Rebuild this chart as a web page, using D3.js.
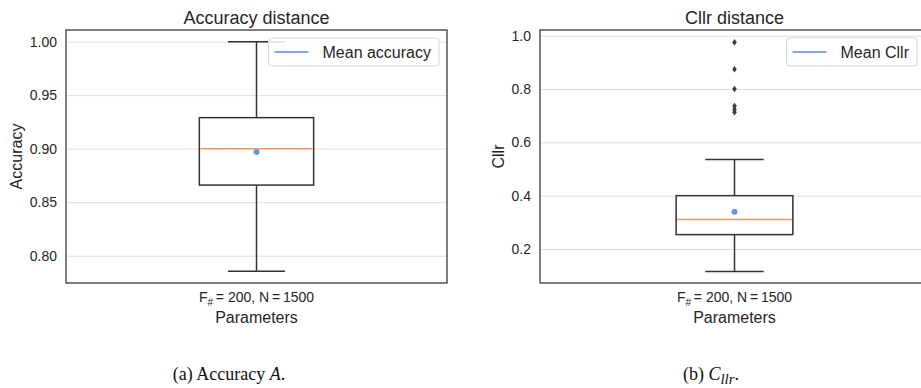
<!DOCTYPE html>
<html>
<head>
<meta charset="utf-8">
<script src="https://cdn.jsdelivr.net/npm/d3@7"></script>
<style>
  html, body { margin: 0; padding: 0; background: #fff; }
  svg { display: block; font-family: "Liberation Sans", Arial, sans-serif; }
  .grid line { stroke: #dedede; stroke-width: 1; }
  .grid path { display: none; }
  .axis path { display: none; }
  .axis text { fill: #262626; font-size: 14px; }
</style>
</head>
<body>
<div id="chart"></div>
<script>
// one category per panel
const categories = ['F#=200, N=1500'];

// box stats: [whisker low, q1, median, q3, whisker high]
const accuracyBox = [0.7855, 0.866, 0.900, 0.929, 1.000];
const accuracyMean = [0.897];
const accuracyFliers = [];
const accuracyTicks = [0.80, 0.85, 0.90, 0.95, 1.00];

const cllrBox = [0.116, 0.254, 0.311, 0.400, 0.536];
const cllrMean = [0.340];
const cllrFliers = [0.975, 0.874, 0.800, 0.736, 0.723, 0.713];
const cllrTicks = [0.2, 0.4, 0.6, 0.8, 1.0];

const W = 921, H = 388;
const TEXT = '#262626', EDGE = '#333333';
const MEAN_COLOR = '#6f95e2', LEGEND_LINE = '#86a6e6', MEDIAN_COLOR = '#f5995e';

const svg = d3.select('#chart').append('svg').attr('width', W).attr('height', H);

function drawPanel(opts) {
  const { left, right, top, bottom, domain, ticks, fmt, box, mean, fliers,
          title, ylabel, ylabelX, legendLabel, legendRight } = opts;
  const w = right - left, h = bottom - top;
  const g = svg.append('g').attr('transform', `translate(${left},${top})`);

  const x = d3.scaleBand().domain(categories).range([0, w]).padding(0);
  const y = d3.scaleLinear().domain(domain).range([h, 0]);

  g.append('g').attr('class', 'grid')
    .call(d3.axisLeft(y).tickValues(ticks).tickSize(-w).tickFormat(''));

  g.append('g').attr('class', 'axis')
    .call(d3.axisLeft(y).tickValues(ticks).tickSize(0).tickPadding(9).tickFormat(d3.format(fmt)));

  // box
  const cx = x(categories[0]) + x.bandwidth() / 2;
  const bw = x.bandwidth() * 0.3;
  const [lo, q1, med, q3, hi] = box;

  g.append('line').attr('x1', cx).attr('x2', cx).attr('y1', y(q3)).attr('y2', y(hi))
    .attr('stroke', EDGE).attr('stroke-width', 1.5);
  g.append('line').attr('x1', cx).attr('x2', cx).attr('y1', y(q1)).attr('y2', y(lo))
    .attr('stroke', EDGE).attr('stroke-width', 1.5);
  [lo, hi].forEach(v => {
    g.append('line').attr('x1', cx - bw / 4).attr('x2', cx + bw / 4).attr('y1', y(v)).attr('y2', y(v))
      .attr('stroke', EDGE).attr('stroke-width', 1.5);
  });
  g.append('rect').attr('x', cx - bw / 2).attr('width', bw)
    .attr('y', y(q3)).attr('height', y(q1) - y(q3))
    .attr('fill', '#fff').attr('stroke', EDGE).attr('stroke-width', 1.5);
  g.append('line').attr('x1', cx - bw / 2 + 1).attr('x2', cx + bw / 2 - 1).attr('y1', y(med)).attr('y2', y(med))
    .attr('stroke', MEDIAN_COLOR).attr('stroke-width', 1.5);

  g.selectAll('.mean').data(mean).enter().append('circle')
    .attr('cx', cx).attr('cy', d => y(d)).attr('r', 3).attr('fill', MEAN_COLOR);

  g.selectAll('.flier').data(fliers).enter().append('path')
    .attr('d', 'M0,-3.3L2.3,0L0,3.3L-2.3,0Z')
    .attr('transform', d => `translate(${cx},${y(d)})`)
    .attr('fill', '#3d3d3d');

  // frame
  g.append('rect').attr('width', w).attr('height', h)
    .attr('fill', 'none').attr('stroke', EDGE).attr('stroke-width', 1.25);

  // titles and labels
  g.append('text').attr('x', w / 2).attr('y', -6).attr('text-anchor', 'middle')
    .attr('font-size', 18).attr('fill', TEXT).text(title);

  const tick = g.append('text').attr('x', cx).attr('y', h + 19).attr('text-anchor', 'middle')
    .attr('font-size', 14).attr('fill', TEXT);
  tick.append('tspan').text('F');
  tick.append('tspan').attr('font-size', 10).attr('dy', 4).text('#');
  tick.append('tspan').attr('dy', -4).text('\u2009= 200, N\u2009=\u20091500');

  g.append('text').attr('x', cx).attr('y', h + 40).attr('text-anchor', 'middle')
    .attr('font-size', 16).attr('fill', TEXT).text('Parameters');

  svg.append('text').attr('transform', `translate(${ylabelX},${top + h / 2}) rotate(-90)`)
    .attr('text-anchor', 'middle').attr('dy', '0.35em')
    .attr('font-size', 16).attr('fill', TEXT).text(ylabel);

  // legend
  const lg = svg.append('g');
  const lt = lg.append('text').attr('font-size', 16).attr('fill', TEXT).text(legendLabel);
  const tw = lt.node().getComputedTextLength();
  const lw = tw + 62, lh = 28;
  const lx = legendRight - lw, ly = top + 8;
  lg.insert('rect', 'text').attr('x', lx).attr('y', ly).attr('width', lw).attr('height', lh)
    .attr('rx', 3).attr('fill', 'rgba(255,255,255,0.85)').attr('stroke', '#d6d6d6');
  lg.append('line').attr('x1', lx + 6).attr('x2', lx + 40).attr('y1', ly + lh / 2).attr('y2', ly + lh / 2)
    .attr('stroke', LEGEND_LINE).attr('stroke-width', 1.8);
  lt.attr('x', lx + 54).attr('y', ly + lh / 2 + 6);
}

drawPanel({
  left: 66, right: 447, top: 30, bottom: 283,
  domain: [0.7745, 1.0109], ticks: accuracyTicks, fmt: '.2f',
  box: accuracyBox, mean: accuracyMean, fliers: accuracyFliers,
  title: 'Accuracy distance', ylabel: 'Accuracy', ylabelX: 16,
  legendLabel: 'Mean accuracy', legendRight: 439
});

drawPanel({
  left: 540, right: 929, top: 30, bottom: 283,
  domain: [0.0725, 1.0214], ticks: cllrTicks, fmt: '.1f',
  box: cllrBox, mean: cllrMean, fliers: cllrFliers,
  title: 'Cllr distance', ylabel: 'Cllr', ylabelX: 498,
  legendLabel: 'Mean Cllr', legendRight: 917
});

// sub-figure captions
const capA = svg.append('text').attr('x', 229).attr('y', 380).attr('text-anchor', 'middle')
  .attr('font-family', '"Liberation Serif", serif').attr('font-size', 18).attr('fill', '#111');
capA.append('tspan').text('(a) Accuracy ');
capA.append('tspan').attr('font-style', 'italic').text('A');
capA.append('tspan').text('.');

const capB = svg.append('text').attr('x', 711).attr('y', 380).attr('text-anchor', 'middle')
  .attr('font-family', '"Liberation Serif", serif').attr('font-size', 18).attr('fill', '#111');
capB.append('tspan').text('(b) ');
capB.append('tspan').attr('font-style', 'italic').text('C');
capB.append('tspan').attr('font-style', 'italic').attr('font-size', 15).attr('dy', 4).text('llr');
capB.append('tspan').attr('dy', -4).text('.');
</script>
</body>
</html>
